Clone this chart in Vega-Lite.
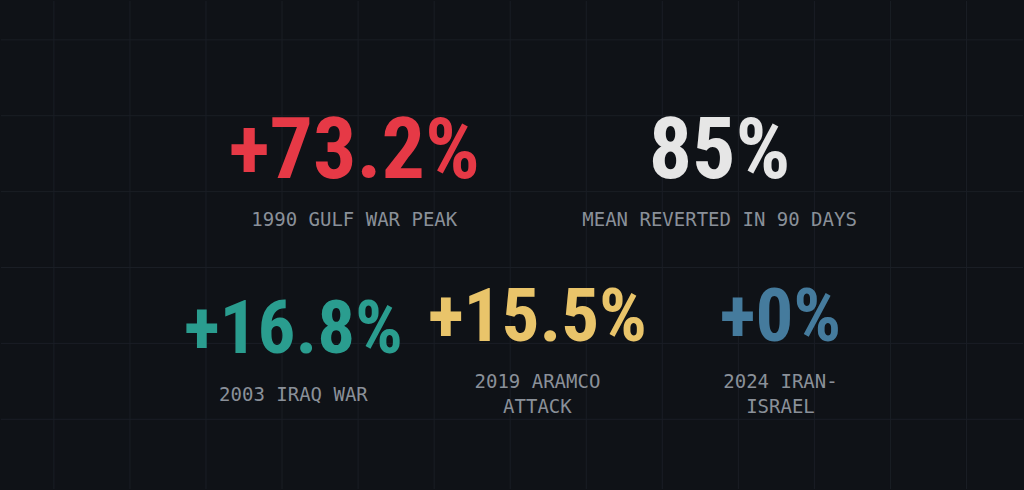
{
  "$schema": "https://vega.github.io/schema/vega-lite/v6.json",
  "description": "Oil price shock stats on a dark grid",
  "width": 1024,
  "height": 490,
  "padding": 0,
  "autosize": {"type": "fit", "contains": "padding"},
  "background": "#0f1217",
  "config": {"view": {"stroke": null}},
  "datasets": {
    "stats": [
      {"event": "1990 Gulf War", "value": "+73.2%", "label": "1990 GULF WAR PEAK", "row": 1, "x": 3.95, "y": 2.375},
      {"event": "Mean reversion", "value": "85%", "label": "MEAN REVERTED IN 90 DAYS", "row": 1, "x": 8.753, "y": 2.375},
      {"event": "2003 Iraq War", "value": "+16.8%", "label": "2003 IRAQ WAR", "row": 2, "x": 3.15, "y": 4.678},
      {"event": "2019 Aramco", "value": "+15.5%", "label": ["2019 ARAMCO", "ATTACK"], "row": 2, "x": 6.358, "y": 4.678},
      {"event": "2024 Iran-Israel", "value": "+0%", "label": ["2024 IRAN-", "ISRAEL"], "row": 2, "x": 9.554, "y": 4.678}
    ],
    "vgrid": [
      {"x": 0}, {"x": 1}, {"x": 2}, {"x": 3}, {"x": 4}, {"x": 5}, {"x": 6},
      {"x": 7}, {"x": 8}, {"x": 9}, {"x": 10}, {"x": 11}, {"x": 12}
    ],
    "hgrid": [
      {"y": 0}, {"y": 1}, {"y": 2}, {"y": 3}, {"y": 4}, {"y": 5}
    ]
  },
  "layer": [
    {
      "data": {"name": "vgrid"},
      "mark": {"type": "rule", "color": "#1a1e25", "strokeWidth": 1},
      "encoding": {
        "x": {"field": "x", "type": "quantitative", "scale": {"domain": [-0.6955, 12.743], "nice": false, "zero": false}, "axis": null}
      }
    },
    {
      "data": {"name": "hgrid"},
      "mark": {"type": "rule", "color": "#1a1e25", "strokeWidth": 1},
      "encoding": {
        "y": {"field": "y", "type": "quantitative", "scale": {"domain": [-0.5118, 5.9186], "nice": false, "zero": false, "reverse": true}, "axis": null}
      }
    },
    {
      "data": {"name": "stats"},
      "transform": [{"filter": "!isArray(datum.label)"}],
      "mark": {"type": "text", "font": "Roboto Condensed, Roboto", "fontWeight": "bold", "align": "center", "baseline": "alphabetic", "dy": -42},
      "encoding": {
        "x": {"field": "x", "type": "quantitative", "axis": null},
        "y": {"field": "y", "type": "quantitative", "axis": null},
        "text": {"field": "value"},
        "size": {"field": "row", "type": "ordinal", "scale": {"domain": [1, 2], "range": [86, 75]}, "legend": null},
        "color": {
          "field": "event", "type": "nominal", "legend": null,
          "scale": {
            "domain": ["1990 Gulf War", "Mean reversion", "2003 Iraq War", "2019 Aramco", "2024 Iran-Israel"],
            "range": ["#e63946", "#e6e6e6", "#2a9d8f", "#e9c46a", "#457b9d"]
          }
        }
      }
    },
    {
      "data": {"name": "stats"},
      "transform": [{"filter": "isArray(datum.label)"}],
      "mark": {"type": "text", "font": "Roboto Condensed, Roboto", "fontWeight": "bold", "align": "center", "baseline": "alphabetic", "dy": -54},
      "encoding": {
        "x": {"field": "x", "type": "quantitative", "axis": null},
        "y": {"field": "y", "type": "quantitative", "axis": null},
        "text": {"field": "value"},
        "size": {"field": "row", "type": "ordinal", "scale": {"domain": [1, 2], "range": [86, 75]}, "legend": null},
        "color": {"field": "event", "type": "nominal", "legend": null}
      }
    },
    {
      "data": {"name": "stats"},
      "transform": [{"filter": "!isArray(datum.label)"}],
      "mark": {"type": "text", "font": "DejaVu Sans Mono", "fontSize": 19, "color": "#8a9099", "align": "center", "baseline": "middle"},
      "encoding": {
        "x": {"field": "x", "type": "quantitative", "axis": null},
        "y": {"field": "y", "type": "quantitative", "axis": null},
        "text": {"field": "label"}
      }
    },
    {
      "data": {"name": "stats"},
      "transform": [{"filter": "isArray(datum.label)"}],
      "mark": {"type": "text", "font": "DejaVu Sans Mono", "fontSize": 19, "color": "#8a9099", "align": "center", "baseline": "middle", "lineHeight": 25, "dy": -12.5},
      "encoding": {
        "x": {"field": "x", "type": "quantitative", "axis": null},
        "y": {"field": "y", "type": "quantitative", "axis": null},
        "text": {"field": "label"}
      }
    }
  ]
}
